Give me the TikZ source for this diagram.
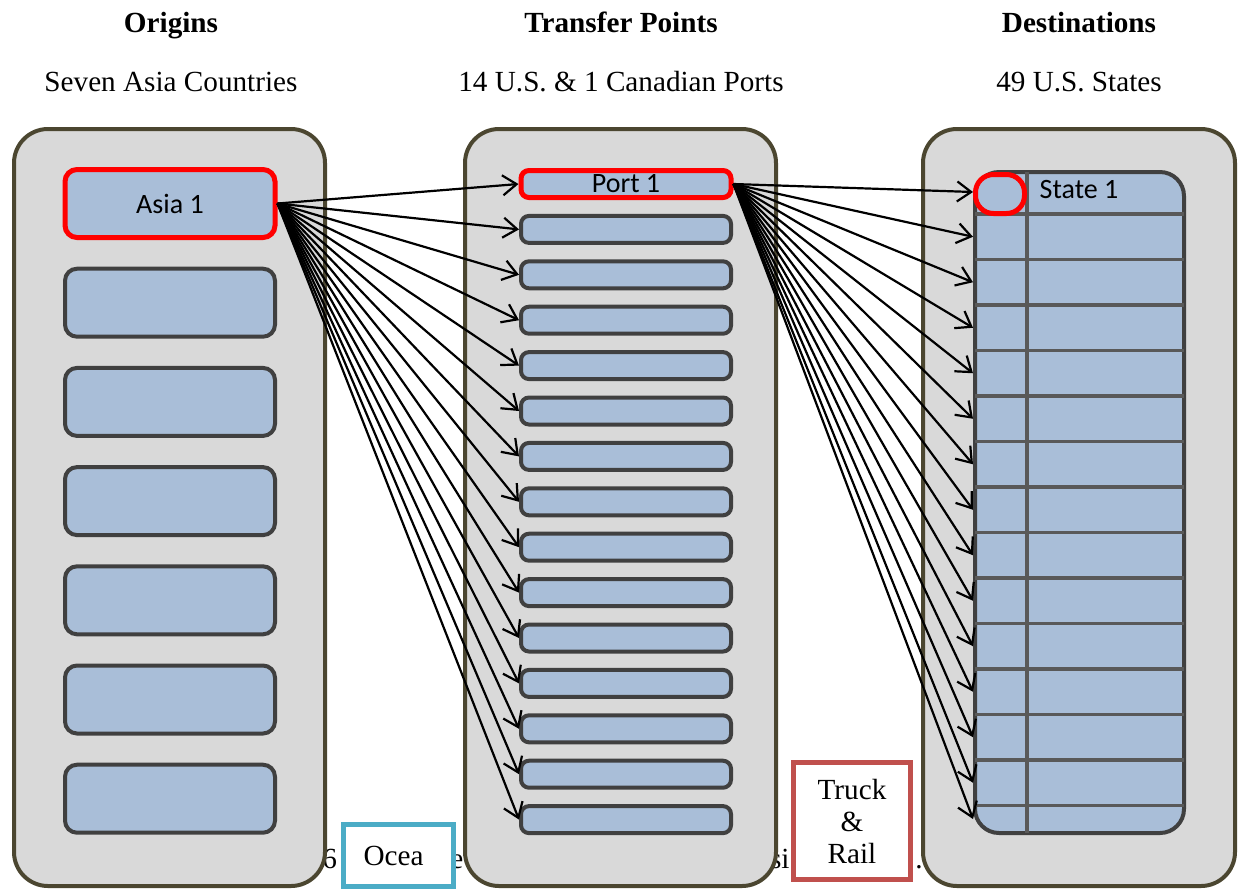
\documentclass[tikz,border=0pt]{standalone}
\usepackage{fontspec}
\setmainfont{Liberation Serif}
\newfontfamily\calibri{Carlito}
\usetikzlibrary{arrows.meta}

\definecolor{panelfill}{HTML}{D9D9D9}
\definecolor{paneldraw}{HTML}{4B4630}
\definecolor{boxfill}{HTML}{A9BED8}
\definecolor{boxdraw}{HTML}{404040}
\definecolor{gridline}{HTML}{595959}
\definecolor{oceanblue}{HTML}{4BACC6}
\definecolor{landred}{HTML}{C0504D}

\tikzset{
  panel/.style={draw=paneldraw, fill=panelfill, line width=2pt, rounded corners=17pt},
  cell/.style={draw=boxdraw, fill=boxfill, line width=2pt, minimum width=105pt,
    inner sep=0pt, font=\calibri\fontsize{14}{16}\selectfont},
  origin/.style={cell, minimum height=34pt, rounded corners=6pt},
  port/.style={cell, minimum height=13.5pt, rounded corners=4pt},
  picked/.style={draw=red, line width=2.5pt},
  flow/.style={-{Straight Barb[length=7pt,width=10pt]}, line width=1.1pt},
  mode/.style={fill=white, line width=2.5pt, inner sep=0pt, align=center,
    font=\fontsize{14.6}{16}\selectfont},
  heading/.style={anchor=base, font=\bfseries\fontsize{14.6}{17}\selectfont},
  subheading/.style={anchor=base, font=\fontsize{14.6}{17}\selectfont},
}

\begin{document}
\begin{tikzpicture}[x=0.5pt, y=-0.5pt]
  \clip (0,0) rectangle (1238,891);

  % Column titles
  \node[heading] (t1) at (171,32) {Origins};
  \node[heading] (t2) at (621,32) {Transfer Points};
  \node[heading] (t3) at (1079,32) {Destinations};
  \node[subheading] (s1) at (171,91) {Seven Asia Countries};
  \node[subheading] (s2) at (621,91) {14 U.S. \& 1 Canadian Ports};
  \node[subheading] (s3) at (1079,91) {49 U.S. States};

  % Pieces of the caption line behind the boxes
  \node[subheading, anchor=base west, inner sep=0pt] (c1) at (322,868) {6};
  \node[subheading, anchor=base west, inner sep=0pt] (c2) at (450,868) {e};
  \node[subheading, anchor=base east, inner sep=0pt] (c3) at (790,868) {si};
  \node[subheading, anchor=base west, inner sep=0pt] (c4) at (915,868) {.};

  % Panels
  \draw[panel] (14,129) rectangle (325,886);
  \draw[panel] (465,129) rectangle (776,886);
  \draw[panel] (923,129) rectangle (1235,886);

  % Origins
  \node[origin, picked] (asia1) at (170,203.5) {Asia 1};
  \foreach \i in {2,...,7} {
    \node[origin] (asia\i) at (170, {203.5+99.2*(\i-1)}) {};
  }

  % Ports
  \node[port, picked] (port1) at (626,184) {Port 1\hspace{6pt}};
  \foreach \i in {2,...,15} {
    \node[port] (port\i) at (626, {184+45.4*(\i-1)}) {};
  }

  % States table
  \node[draw=boxdraw, fill=boxfill, line width=2pt, rounded corners=12pt,
    minimum width=104.5pt, minimum height=330.5pt, inner sep=0pt] (grid) at (1079.5,502.5) {};
  \foreach \k in {0,...,13} {
    \draw[gridline, line width=1.6pt] (975, {214+45.5*\k}) -- (1184, {214+45.5*\k});
  }
  \draw[gridline, line width=1.6pt] (1027,172) -- (1027,833);
  \node[draw=red, line width=2.5pt, rounded corners=9pt, fill=boxfill,
    minimum width=24.5pt, minimum height=19.5pt, inner sep=0pt] (pick) at (1000,194) {};
  \node[font=\calibri\fontsize{14}{16}\selectfont] (state1) at (1079,190) {State 1};

  % Arrow targets on the table
  \coordinate (st1) at (973,192);
  \foreach \k in {2,...,14} {
    \coordinate (st\k) at (973, {214+45.5*(\k-2)+22.75});
  }
  \coordinate (st15) at (973,819);

  % Ocean legs
  \foreach \i in {1,...,15} {
    \draw[flow] (asia1.east) -- (port\i.west);
  }
  % Land legs
  \foreach \k in {1,...,15} {
    \draw[flow] (port1.east) -- (st\k);
  }

  % Mode labels
  \node[mode, draw=oceanblue, minimum width=55pt, minimum height=31pt] (ocean) at (398.5,855.5) {Ocea\hspace{5pt}};
  \node[mode, draw=landred, minimum width=58.5pt, minimum height=58.5pt] (land) at (852,821) {Truck\\\&\\Rail};
\end{tikzpicture}
\end{document}
